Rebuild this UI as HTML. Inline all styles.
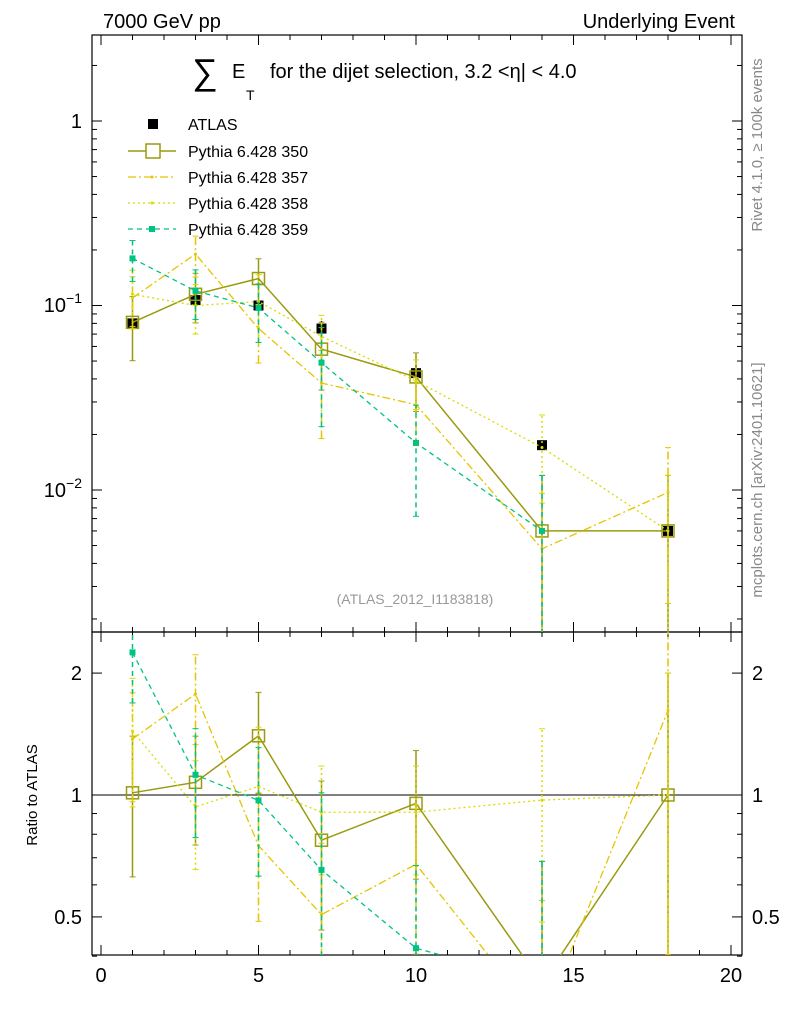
<!DOCTYPE html>
<html><head><meta charset="utf-8"><style>
html,body{margin:0;background:#fff;overflow:hidden;}
svg{font-family:"Liberation Sans",sans-serif;display:block;}
</style></head><body>
<svg id="c" width="786" height="1024" xmlns="http://www.w3.org/2000/svg"></svg>
<script>
const xs=[1,3,5,7,10,14,18];
const atlas=[0.08,0.107,0.10,0.075,0.043,0.0175,0.006];
const atlasErr=[0.06,0.06,0.06,0.1,0.1,0.06,0.06];
const s350=[0.081,0.115,0.14,0.058,0.041,0.006,0.006];
const s357=[0.11,0.19,0.075,0.038,0.029,0.0048,0.0097];
const s358=[0.115,0.10,0.105,0.068,0.039,0.017,0.006];
const s359=[0.18,0.12,0.097,0.049,0.018,0.006,null];
const err350=[0.38,0.3,0.28,0.4,0.35,1,1];
const err357=[0.3,0.25,0.35,0.5,0.4,1,0.75];
const err358=[0.35,0.3,0.4,0.3,0.3,0.5,1];
const err359=[0.25,0.3,0.35,0.55,0.6,1,1];
const xTicks=[0,5,10,15,20];
const NS="http://www.w3.org/2000/svg";
const svg=document.getElementById('c');
const L=92,R=742,T=35,M=632,B=955;
const X=v=>101+v*31.5;
const Y=v=>121-Math.log10(v)*184.5;
const YR=v=>795-Math.log10(v)*405;
function el(tag,a,parent){const e=document.createElementNS(NS,tag);for(const k in a)e.setAttribute(k,a[k]);(parent||svg).appendChild(e);return e;}
function txt(x,y,s,a,p){const e=el('text',Object.assign({x:x,y:y},a||{}),p);e.textContent=s;return e;}
const defs=el('defs',{});
const c1=el('clipPath',{id:'cm'},defs);el('rect',{x:L,y:T,width:R-L,height:M-T},c1);
const c2=el('clipPath',{id:'cr'},defs);el('rect',{x:L,y:M,width:R-L,height:B-M},c2);
let f=el('rect',{x:L,y:T,width:R-L,height:M-T,fill:'none',stroke:'#000','stroke-width':1.2});

f=el('rect',{x:L,y:M,width:R-L,height:B-M,fill:'none',stroke:'#000','stroke-width':1.2});

for(let v=0;v<=20;v++){const major=v%5==0;const h=major?10:5;const x=X(v);
 [T,M].forEach(t=>el('line',{x1:x,x2:x,y1:t,y2:t+h,stroke:'#000'}));
 [M,B].forEach(b=>el('line',{x1:x,x2:x,y1:b,y2:b-h,stroke:'#000'}));}
xTicks.forEach(v=>{const t=txt(X(v),982,String(v),{'font-size':20,'text-anchor':'middle'});
 });
for(let d=-3;d<=0;d++)for(let m=1;m<10;m++){const v=m*Math.pow(10,d);const y=Y(v);if(y<T||y>M)continue;const h=m==1?10:5;
 el('line',{x1:L,x2:L+h,y1:y,y2:y,stroke:'#000'});el('line',{x1:R,x2:R-h,y1:y,y2:y,stroke:'#000'});}
let t=txt(82,128,'1',{'font-size':20,'text-anchor':'end'});
t=txt(82,312,'',{'font-size':20,'text-anchor':'end'});t.innerHTML='10<tspan dy="-9" font-size="14">−1</tspan>';
t=txt(82,497,'',{'font-size':20,'text-anchor':'end'});t.innerHTML='10<tspan dy="-9" font-size="14">−2</tspan>';
[0.4,0.5,0.6,0.7,0.8,0.9,1,2].forEach(v=>{const y=YR(v);const h=(v==1||v==2||v==0.5)?10:5;
 el('line',{x1:L,x2:L+h,y1:y,y2:y,stroke:'#000'});el('line',{x1:R,x2:R-h,y1:y,y2:y,stroke:'#000'});});
[[2,'2'],[1,'1'],[0.5,'0.5']].forEach(([v,s])=>{
 let a=txt(82,YR(v)+7,s,{'font-size':20,'text-anchor':'end'});
 a=txt(752,YR(v)+7,s,{'font-size':20});});
el('line',{x1:L,x2:R,y1:YR(1),y2:YR(1),stroke:'#000'});
t=txt(103,28,'7000 GeV pp',{'font-size':20});
t=txt(735,28,'Underlying Event',{'font-size':20,'text-anchor':'end'});
t=txt(192,84,'∑',{'font-size':36});
t=txt(232,78,'E',{'font-size':20});
t=txt(246,100,'T',{'font-size':14});
t=txt(270,78,'for the dijet selection, 3.2 <η| < 4.0',{'font-size':20});
t=txt(415,604,'(ATLAS_2012_I1183818)',{'font-size':14,fill:'#999','text-anchor':'middle'});
t=txt(0,0,'Ratio to ATLAS',{'font-size':15,transform:'translate(37,795) rotate(-90)','text-anchor':'middle'});
t=txt(0,0,'Rivet 4.1.0, ≥ 100k events',{'font-size':15,fill:'#888',transform:'translate(762,145) rotate(-90)','text-anchor':'middle'});
t=txt(0,0,'mcplots.cern.ch [arXiv:2401.10621]',{'font-size':15,fill:'#888',transform:'translate(762,480) rotate(-90)','text-anchor':'middle'});
const series=[
 {name:'350',vals:s350,err:err350,color:'#9a9a10',dash:'',marker:'open',w:1.5},
 {name:'357',vals:s357,err:err357,color:'#e6c400',dash:'8,3,2,3',marker:'dot',w:1.3},
 {name:'358',vals:s358,err:err358,color:'#d8dc00',dash:'2,3',marker:'dot',w:1.3},
 {name:'359',vals:s359,err:err359,color:'#00c283',dash:'5,4',marker:'sq',w:1.3}];
function drawSeries(s,ratio){
 const g=el('g',{'clip-path':ratio?'url(#cr)':'url(#cm)'});
 
 const F=ratio?YR:Y;
 const pts=[];
 xs.forEach((x,i)=>{if(s.vals[i]==null)return;pts.push([x,ratio?s.vals[i]/atlas[i]:s.vals[i],s.err[i]]);});
 el('polyline',{points:pts.map(p=>X(p[0])+','+F(p[1])).join(' '),fill:'none',stroke:s.color,'stroke-width':s.w,'stroke-dasharray':s.dash},g);
 pts.forEach(([x,v,e])=>{const lo=Math.max(v*(1-e),1e-4),hi=v*(1+e);
  el('line',{x1:X(x),x2:X(x),y1:F(lo),y2:F(hi),stroke:s.color,'stroke-width':1.5,'stroke-dasharray':s.dash},g);
  [lo,hi].forEach(q=>el('line',{x1:X(x)-3,x2:X(x)+3,y1:F(q),y2:F(q),stroke:s.color},g));
  const y=F(v);
  if(s.marker=='open')el('rect',{x:X(x)-6,y:y-6,width:12,height:12,fill:'none',stroke:s.color,'stroke-width':1.5},g);
  else if(s.marker=='sq')el('rect',{x:X(x)-3,y:y-3,width:6,height:6,fill:s.color},g);
  else el('circle',{cx:X(x),cy:y,r:1.5,fill:s.color},g);});
}
const ga=el('g',{'clip-path':'url(#cm)'});
xs.forEach((x,i)=>{const v=atlas[i];el('line',{x1:X(x),x2:X(x),y1:Y(v*(1-atlasErr[i])),y2:Y(v*(1+atlasErr[i])),stroke:'#000','stroke-width':1.5},ga);
 el('rect',{x:X(x)-5,y:Y(v)-5,width:10,height:10,fill:'#000'},ga);});
series.forEach(s=>{drawSeries(s,false);drawSeries(s,true);});
const legY=[124,151,177,203,229];
let lg=el('g',{});
el('rect',{x:148,y:legY[0]-5,width:10,height:10,fill:'#000'},lg);
t=txt(188,legY[0]+6,'ATLAS',{'font-size':16},lg);
series.forEach((s,k)=>{const y=legY[k+1];
 el('line',{x1:128,x2:176,y1:y,y2:y,stroke:s.color,'stroke-width':s.w,'stroke-dasharray':s.dash},lg);
 if(s.marker=='open')el('rect',{x:146,y:y-7,width:14,height:14,fill:'#fff',stroke:s.color,'stroke-width':1.5},lg);
 else if(s.marker=='sq')el('rect',{x:149,y:y-3,width:6,height:6,fill:s.color},lg);
 else el('circle',{cx:152,cy:y,r:1.5,fill:s.color},lg);
 const tt=txt(188,y+6,'Pythia 6.428 '+s.name,{'font-size':16},lg);
 });
</script>
</body></html>
